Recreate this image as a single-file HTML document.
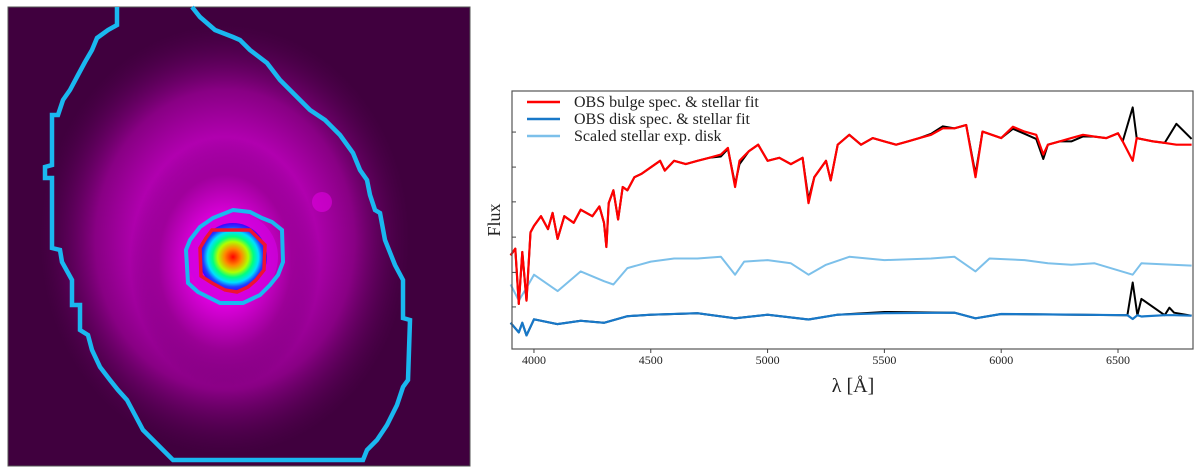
<!DOCTYPE html>
<html><head><meta charset="utf-8"><style>
html,body{margin:0;background:#fff;width:1200px;height:476px;overflow:hidden;font-family:"Liberation Serif",serif}
svg{position:absolute;left:0;top:0;overflow:hidden;display:block}
</style></head><body>
<svg width="1200" height="476">
<defs>
<radialGradient id="glow" cx="0.5" cy="0.5" r="0.5">
<stop offset="0" stop-color="#ff00ff"/><stop offset="0.35" stop-color="#e000e0"/>
<stop offset="0.7" stop-color="#950090"/><stop offset="1" stop-color="#5a0058" stop-opacity="0"/>
</radialGradient>
<radialGradient id="core" cx="0.5" cy="0.5" r="0.5">
<stop offset="0" stop-color="#ff0000"/><stop offset="0.25" stop-color="#ff8800"/>
<stop offset="0.45" stop-color="#b0ff00"/><stop offset="0.6" stop-color="#00ff80"/>
<stop offset="0.75" stop-color="#00e0ff"/><stop offset="0.88" stop-color="#2040ff"/><stop offset="1" stop-color="#4000ff"/>
</radialGradient>
</defs>
<g>
<rect x="8" y="7" width="462" height="459" fill="#40003e"/>
<ellipse cx="225" cy="240" rx="185" ry="215" fill="url(#glow)" opacity="0.85"/>
<ellipse cx="225" cy="262" rx="95" ry="125" fill="url(#glow)" opacity="0.8"/>
<circle cx="322" cy="202" r="10" fill="#e000e0" opacity="0.6"/>
<circle cx="233" cy="257" r="45" fill="#d000e0" opacity="0.7"/>
<circle cx="233" cy="257" r="34" fill="url(#core)"/>
<rect x="8" y="7" width="462" height="459" fill="none" stroke="#555" stroke-width="1"/>
<polyline fill="none" stroke="#1ab8f0" stroke-width="4.5"
points="117,7 117,25 108,30 97,38 92,50 85,62 78,75 70,90 63,100 58,115 52,115 52,165 45,167 45,178 52,178 52,248 60,250 62,262 72,280 72,305 80,305 80,330 88,335 92,350 100,367 110,380 118,390 127,400 135,415 143,430 158,445 173,460 363,460 367,450 377,440 387,425 397,405 403,387 408,380 410,320 403,318 403,280 395,265 385,240 380,213 375,210 370,195 367,180 360,170 353,153 340,135 325,120 310,110 295,95 280,80 267,63 250,50 240,40 233,37 215,30 200,17 192,7"/>
<polygon fill="none" stroke="#1ab8f0" stroke-width="4"
points="233,210 250,212 262,218 272,222 282,230 283,262 278,275 270,285 260,295 243,303 220,303 210,298 198,292 188,283 186,250 190,240 200,227 213,218"/>
<polygon fill="none" stroke="#ee1133" stroke-width="3.5"
points="212,230 250,230 258,238 265,245 264,270 256,280 248,287 237,292 225,290 212,283 201,276 200,248 206,238"/>
</g>
<g id="chart"></g>
</svg>
<script>
const NS="http://www.w3.org/2000/svg";
const bulgeWave=[3900,3920,3935,3950,3968,3985,4000,4030,4060,4080,4101,4130,4170,4200,4250,4280,4300,4310,4320,4340,4360,4380,4400,4430,4460,4500,4540,4560,4600,4650,4700,4750,4800,4830,4861,4880,4920,4960,5000,5050,5100,5150,5175,5200,5250,5270,5300,5350,5400,5450,5500,5550,5600,5650,5700,5750,5800,5850,5890,5920,6000,6050,6100,6150,6180,6200,6250,6300,6350,6400,6450,6500,6520,6563,6580,6650,6700,6750,6815];
const bulgeFlux=[3.48,3.74,1.55,3.61,1.68,4.39,4.65,5.03,4.52,5.16,4.13,5.03,4.77,5.29,5.03,5.42,4.77,3.81,5.55,6.06,4.90,6.19,6.06,6.58,6.71,6.97,7.23,6.84,7.23,7.10,7.23,7.35,7.48,7.74,6.19,7.23,7.61,7.87,7.23,7.35,7.10,7.35,5.55,6.58,7.23,6.45,7.87,8.26,7.87,8.13,8.00,7.87,8.00,8.13,8.26,8.52,8.52,8.65,6.58,8.39,8.13,8.58,8.39,8.26,7.48,7.87,8.00,8.13,8.26,8.19,8.13,8.32,8.00,7.23,8.13,8.00,7.94,7.87,7.87];
const obsBulgeFlux=[3.48,3.74,1.55,3.61,1.68,4.39,4.65,5.03,4.52,5.16,4.13,5.03,4.77,5.29,5.03,5.42,4.77,3.81,5.55,6.06,4.90,6.19,6.06,6.58,6.71,6.97,7.23,6.84,7.23,7.10,7.23,7.35,7.40,7.70,6.30,7.10,7.61,7.87,7.23,7.35,7.10,7.35,5.70,6.58,7.23,6.45,7.87,8.26,7.87,8.13,8.00,7.87,8.00,8.13,8.30,8.60,8.52,8.65,6.70,8.39,8.13,8.50,8.30,8.10,7.30,7.87,8.00,8.00,8.20,8.19,8.13,8.32,8.00,9.35,8.13,8.00,7.94,8.70,8.10];
const expWave=[3900,3935,3968,4000,4101,4200,4300,4340,4400,4500,4600,4700,4800,4861,4900,5000,5100,5175,5250,5350,5500,5700,5800,5890,5950,6100,6200,6300,6400,6563,6600,6815];
const expFlux=[2.32,1.68,2.19,2.71,2.06,2.84,2.45,2.32,2.97,3.23,3.35,3.35,3.42,2.71,3.23,3.29,3.16,2.71,3.10,3.42,3.29,3.35,3.42,2.84,3.35,3.29,3.16,3.10,3.16,2.71,3.16,3.07];
const diskWave=[3900,3935,3950,3968,4000,4100,4200,4300,4400,4500,4700,4861,5000,5175,5300,5500,5800,5890,6000,6540,6563,6583,6600,6700,6720,6740,6815];
const diskFlux=[0.80,0.42,0.80,0.30,0.94,0.75,0.88,0.80,1.06,1.12,1.18,0.98,1.12,0.93,1.12,1.18,1.20,0.98,1.15,1.10,0.95,1.10,1.05,1.10,1.10,1.10,1.08];
const obsDiskFlux=[0.80,0.42,0.80,0.30,0.94,0.75,0.88,0.80,1.06,1.12,1.18,0.98,1.12,0.93,1.12,1.23,1.20,0.98,1.15,1.10,2.40,1.10,1.75,1.10,1.40,1.20,1.08];
const xTicks=[4000,4500,5000,5500,6000,6500];
const yTicks=[1.43,2.8,4.2,5.6,6.98,8.37];
const legendLabels=["OBS bulge spec. & stellar fit","OBS disk spec. & stellar fit","Scaled  stellar exp. disk"];

const L=512,R=1193,T=91,B=349,xmin=3906,xmax=6821,ymin=-0.24,ymax=10;
const xs=v=>L+(v-xmin)/(xmax-xmin)*(R-L);
const ys=v=>B-(v-ymin)/(ymax-ymin)*(B-T);
const g=document.getElementById('chart');
function mk(t,a,p){const e=document.createElementNS(NS,t);for(const k in a)e.setAttribute(k,a[k]);(p||g).appendChild(e);return e;}
function line(w,f,color,width,name){
  const d=w.map((x,i)=>(i?'L':'M')+xs(x).toFixed(1)+','+ys(f[i]).toFixed(1)).join('');
  const p=mk('path',{d:d,fill:'none',stroke:color,'stroke-width':width,'stroke-linejoin':'round'});
  
  
}
line(expWave,expFlux,'#7cc0ea',2,'scaled-exp-disk-line');
line(diskWave,obsDiskFlux,'#000',2,'obs-disk-line');
line(diskWave,diskFlux,'#1878c8',2.2,'disk-fit-line');
line(bulgeWave,obsBulgeFlux,'#000',2,'obs-bulge-line');
line(bulgeWave,bulgeFlux,'#ff0000',2.2,'bulge-fit-line');
const fr=mk('rect',{x:L,y:T,width:R-L,height:B-T,fill:'none',stroke:'#555','stroke-width':1.2});


xTicks.forEach(v=>{
  mk('line',{x1:xs(v),x2:xs(v),y1:B,y2:B+4,stroke:'#444'});
  const t=mk('text',{x:xs(v),y:B+15,'text-anchor':'middle','font-size':12,fill:'#222'});
  t.textContent=v;
  
  
});
yTicks.forEach(v=>{mk('line',{x1:L,x2:L+4,y1:ys(v),y2:ys(v),stroke:'#444'});});
const xl=mk('text',{x:853,y:392,'text-anchor':'middle','font-size':20,fill:'#222'});
xl.textContent='λ [Å]';


const yl=mk('text',{x:0,y:0,'text-anchor':'middle','font-size':18,fill:'#222',transform:'translate(500,220) rotate(-90)'});
yl.textContent='Flux';


const lc=['#ff0000','#1878c8','#7cc0ea'];
legendLabels.forEach((s,i)=>{
  const y=102+i*17;
  const lg=mk('g',{});
  
  
  mk('line',{x1:527,x2:560,y1:y,y2:y,stroke:lc[i],'stroke-width':2.5},lg);
  const t=mk('text',{x:574,y:y+5,'font-size':16,fill:'#222'},lg);
  t.textContent=s;
});
</script>
</body></html>
